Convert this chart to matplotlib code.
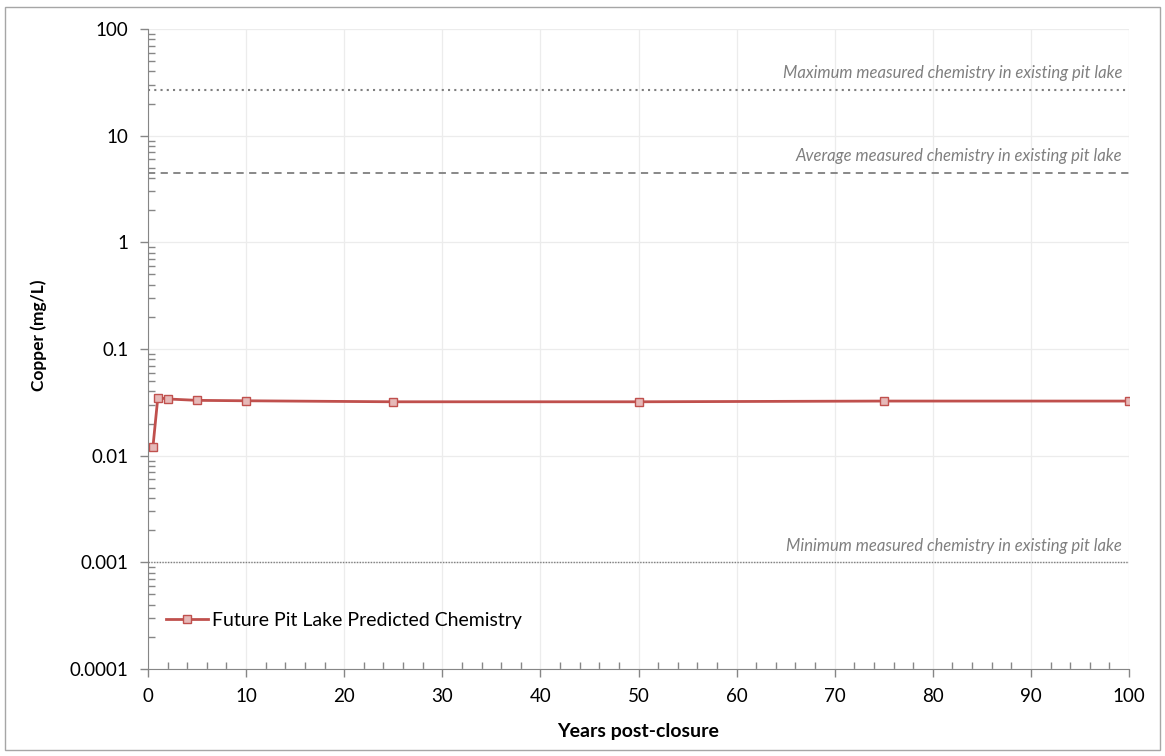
import numpy as np
import matplotlib.pyplot as plt
from matplotlib.ticker import LogLocator, FixedLocator, MultipleLocator, NullFormatter
from matplotlib.patches import Rectangle

plt.rcParams['font.family'] = ['Lato', 'DejaVu Sans']

years = [0.5, 1, 2, 5, 10, 25, 50, 75, 100]
copper = [0.012, 0.035, 0.034, 0.033, 0.0327, 0.032, 0.032, 0.0325, 0.0325]
max_measured = 27
avg_measured = 4.5
min_measured = 0.001
y_ticks = [0.0001, 0.001, 0.01, 0.1, 1, 10, 100]
y_tick_labels = ['0.0001', '0.001', '0.01', '0.1', '1', '10', '100']

fig = plt.figure(figsize=(11.65, 7.56), dpi=100)
ax = fig.add_axes([148 / 1165, 1 - 669 / 756, (1129 - 148) / 1165, (669 - 29) / 756])

# outer chart border
fig.patches.append(Rectangle((5 / 1165, 1 - 750 / 756), 1155 / 1165, 743 / 756,
                             transform=fig.transFigure, fill=False,
                             edgecolor='#a6a6a6', linewidth=1))

ax.set_yscale('log')
ax.set_xlim(0, 100)
ax.set_ylim(0.0001, 100)

ax.grid(True, which='major', color='#ececec', linewidth=0.9)
ax.set_axisbelow(True)

ax.axhline(max_measured, color='#7f7f7f', linestyle=(0, (1, 2)), linewidth=1.5)
ax.axhline(avg_measured, color='#7f7f7f', linestyle=(0, (4, 3)), linewidth=1.3)
ax.axhline(min_measured, color='#7f7f7f', linestyle=(0, (1, 1)), linewidth=1)

lbl = dict(ha='right', va='bottom', style='italic', color='#7f7f7f', fontsize=12)
ax.text(99.3, max_measured * 1.2, 'Maximum measured chemistry in existing pit lake', **lbl)
ax.text(99.3, avg_measured * 1.2, 'Average measured chemistry in existing pit lake', **lbl)
ax.text(99.3, min_measured * 1.2, 'Minimum measured chemistry in existing pit lake', **lbl)

ax.plot(years, copper, color='#c0504d', linewidth=2, marker='s', markersize=6,
        markerfacecolor='#e6b9b8', markeredgecolor='#c0504d', markeredgewidth=1,
        label='Future Pit Lake Predicted Chemistry')

ax.yaxis.set_major_locator(FixedLocator(y_ticks))
ax.set_yticklabels(y_tick_labels)
ax.yaxis.set_minor_locator(LogLocator(base=10, subs=np.arange(2, 10), numticks=20))
ax.yaxis.set_minor_formatter(NullFormatter())
ax.xaxis.set_major_locator(MultipleLocator(10))
ax.xaxis.set_minor_locator(MultipleLocator(2))

ax.tick_params(which='major', direction='out', length=6, width=1, color='#868686',
               labelsize=13.5, pad=8)
ax.tick_params(which='minor', direction='in', length=5, width=1, color='#868686')

for s in ['top', 'right']:
    ax.spines[s].set_visible(False)
for s in ['left', 'bottom']:
    ax.spines[s].set_color('#868686')

ax.set_xlabel('Years post-closure', fontsize=14, fontweight='bold')
ax.set_ylabel('Copper (mg/L)', fontsize=12.5, fontweight='bold')
ax.xaxis.set_label_coords(0.5, -0.085)
ax.yaxis.set_label_coords(-0.103, 0.522)

leg = ax.legend(loc='lower left', bbox_to_anchor=(0.0, 0.035), frameon=False,
                fontsize=14, handlelength=2.2, handletextpad=0.2)

fig.savefig('out.png', dpi=100)
